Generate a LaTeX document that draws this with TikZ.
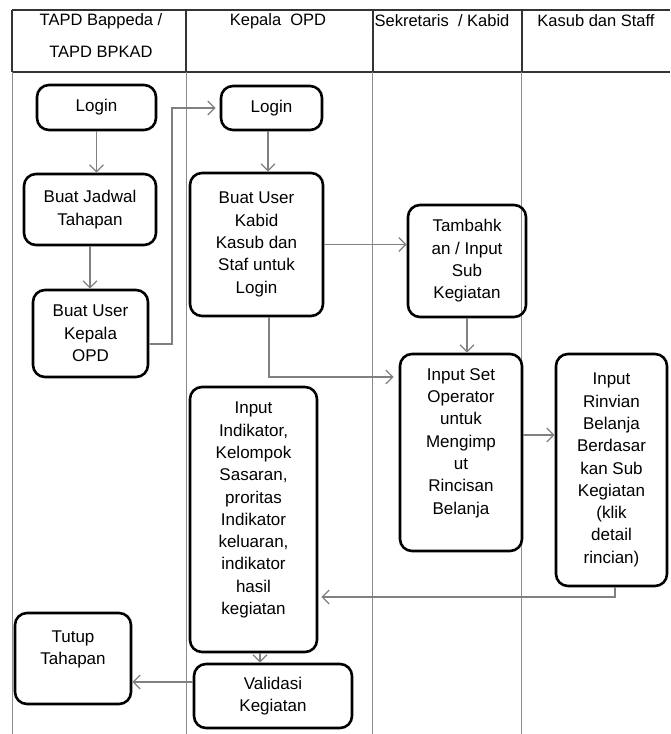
\documentclass[tikz,border=0pt]{standalone}
\usepackage{fontspec}
\setmainfont{Liberation Sans}
\usetikzlibrary{arrows.meta}
\usetikzlibrary{positioning}
\tikzstyle{box}=[draw, line width=2.6pt, rounded corners=12pt, align=center, inner sep=0pt, font=\fontsize{17}{22.3}\selectfont]
\tikzstyle{arr}=[draw=black!50, line width=1.3pt, -{Straight Barb[length=7pt,width=14pt]}]
\tikzstyle{head}=[align=center, font=\fontsize{16.5}{32}\selectfont]

\begin{document}
\begin{tikzpicture}[x=1pt,y=-1pt]
	\useasboundingbox (0,0) rectangle (670,734);
	% lanes
	\draw [black!80, line width=1.2pt] (12,10) -- (670,10) (12,72) -- (670,72);
	\foreach \x in {12,186,373,522} \draw [black!80, line width=1.2pt] (\x,10) -- (\x,72);
	\foreach \x in {12,186,372,521} \draw [black!45, line width=0.9pt] (\x,72) -- (\x,734);
	\node [head] (hTapd) at (101,36) {TAPD Bappeda /\\TAPD BPKAD};
	\node [head] (hKepala) at (278,21) {Kepala\ \ OPD};
	\node [head] (hSekretaris) at (442,21) {Sekretaris\ \ / Kabid};
	\node [head] (hKasub) at (596,21) {Kasub dan Staff};
	% boxes
	\node [box, minimum width=119pt, minimum height=45pt] (loginA) at (96.5,107.5) {Login};
	\node [box, minimum width=132pt, minimum height=71pt] (jadwal) at (90,209.5) {Buat Jadwal\\Tahapan};
	\node [box, minimum width=115pt, minimum height=87pt] (kepala) at (90.5,333.5) {Buat User\\Kepala\\OPD};
	\node [box, minimum width=101pt, minimum height=44pt] (loginB) at (271.5,108) {Login};
	\node [box, minimum width=133pt, minimum height=143pt] (kabid) at (256.5,244.5) {Buat User\\Kabid\\Kasub dan\\Staf untuk\\Login};
	\node [box, minimum width=118pt, minimum height=112pt] (tambah) at (467,261) {Tambahk\\an / Input\\Sub\\Kegiatan};
	\node [box, minimum width=122pt, minimum height=197pt] (operator) at (461,452.5) {Input Set\\Operator\\untuk\\Mengimp\\ut\\Rincisan\\Belanja\\\mbox{}};
	\node [box, minimum width=111pt, minimum height=232pt] (rinvian) at (611.5,470) {Input\\Rinvian\\Belanja\\Berdasar\\kan Sub\\Kegiatan\\(klik\\detail\\rincian)};
	\node [box, minimum width=127pt, minimum height=265pt] (indikator) at (253.5,519.5) {Input\\Indikator,\\Kelompok\\Sasaran,\\proritas\\Indikator\\keluaran,\\indikator\\hasil\\kegiatan\\\mbox{}};
	\node [box, minimum width=158pt, minimum height=64pt] (validasi) at (273,696) {Validasi\\Kegiatan};
	\node [box, minimum width=116pt, minimum height=91pt] (tutup) at (73,658.5) {Tutup\\Tahapan\\\mbox{}};
	\coordinate (bendA) at (172,108);
	% flow
	\draw [arr] (loginA.south) -- (loginA.south |- jadwal.north);
	\draw [arr] (jadwal.south) -- (jadwal.south |- kepala.north);
	\draw [arr, shorten >=4pt] ([yshift=-10.5pt]kepala.east) -| (bendA) -- (loginB.west);
	\draw [arr] ([xshift=-3.5pt]loginB.south) -- ([xshift=-3.5pt]loginB.south |- kabid.north);
	\draw [arr] (kabid.east) -- (kabid.east -| tambah.west);
	\draw [arr] ([xshift=12.5pt]kabid.south) |- ([xshift=-5pt,yshift=75.5pt]operator.west);
	\draw [arr] (tambah.south) -- (tambah.south |- operator.north);
	\draw [arr] ([yshift=17.5pt]operator.east) -- ([yshift=17.5pt]operator.east -| rinvian.west);
	\draw [arr] ([xshift=3.5pt]rinvian.south) |- ([xshift=3pt,yshift=-77.5pt]indikator.east);
	\draw [arr] ([xshift=6.5pt]indikator.south) -- ([xshift=6.5pt]indikator.south |- validasi.north);
	\draw [arr] ([yshift=14pt]validasi.west) -- ([yshift=14pt]validasi.west -| tutup.east);
\end{tikzpicture}
\end{document}
